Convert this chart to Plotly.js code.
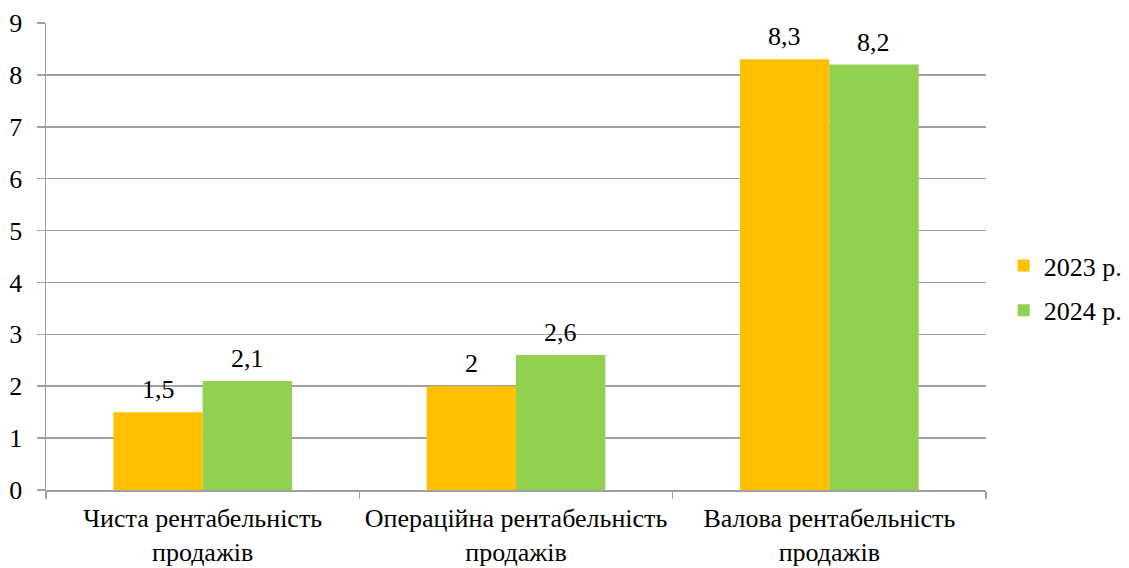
<!DOCTYPE html>
<html><head><meta charset="utf-8">
<script src="https://cdn.plot.ly/plotly-3.0.1.min.js"></script>
<style>body{margin:0;background:#fff}#c{width:1129px;height:568px}</style>
</head><body><div id="c"></div>
<script>
const categories = ["Чиста рентабельність<br>продажів", "Операційна рентабельність<br>продажів", "Валова рентабельність<br>продажів"];
const series2023 = [1.5, 2, 8.3];
const series2024 = [2.1, 2.6, 8.2];
const seriesNames = ["2023 р.", "2024 р."];
const fmt = v => String(v).replace('.', ',');
const font = {family: "Liberation Serif, Times New Roman, serif", size: 26, color: "#000"};
const traces = [
  {type: "bar", x: categories, y: series2023, name: seriesNames[0], marker: {color: "#FFC000"}, hoverinfo: "none", legendgroup: "a"},
  {type: "bar", x: categories, y: series2024, name: seriesNames[1], marker: {color: "#92D050"}, hoverinfo: "none", legendgroup: "b"}
];
const annotations = [];
[[series2023, -44.5], [series2024, 44.5]].forEach(([vals, dx]) => {
  vals.forEach((v, i) => annotations.push({x: categories[i], y: v, xref: "x", yref: "y", text: fmt(v),
    showarrow: false, yanchor: "bottom", xshift: dx, yshift: 6, font: font}));
});
const layout = {
  width: 1129, height: 568,
  margin: {l: 46, r: 143, t: 23, b: 78},
  paper_bgcolor: "#fff", plot_bgcolor: "#fff",
  font: font,
  barmode: "group", bargap: 0.43, bargroupgap: 0,
  showlegend: true,
  legend: {xref: "container", yref: "container", x: 0.889, y: 0.493, xanchor: "left", yanchor: "middle", font: font, tracegroupgap: 8, itemwidth: 30},
  annotations: annotations,
  xaxis: {showline: true, linecolor: "#a0a0a0", linewidth: 1.5, ticks: "outside", tickson: "boundaries",
          ticklen: 7, tickcolor: "#a0a0a0", tickwidth: 1.5, showgrid: false, tickfont: font, ticklabelstandoff: 4},
  yaxis: {range: [0, 9], dtick: 1, showline: true, linecolor: "#a0a0a0", linewidth: 1.5, ticks: "outside",
          ticklen: 8, tickcolor: "#a0a0a0", tickwidth: 1.5, gridcolor: "#a0a0a0", gridwidth: 1.5,
          zeroline: false, tickfont: font, ticklabelstandoff: 9}
};
Plotly.newPlot("c", traces, layout, {displayModeBar: false, staticPlot: true});
</script></body></html>
